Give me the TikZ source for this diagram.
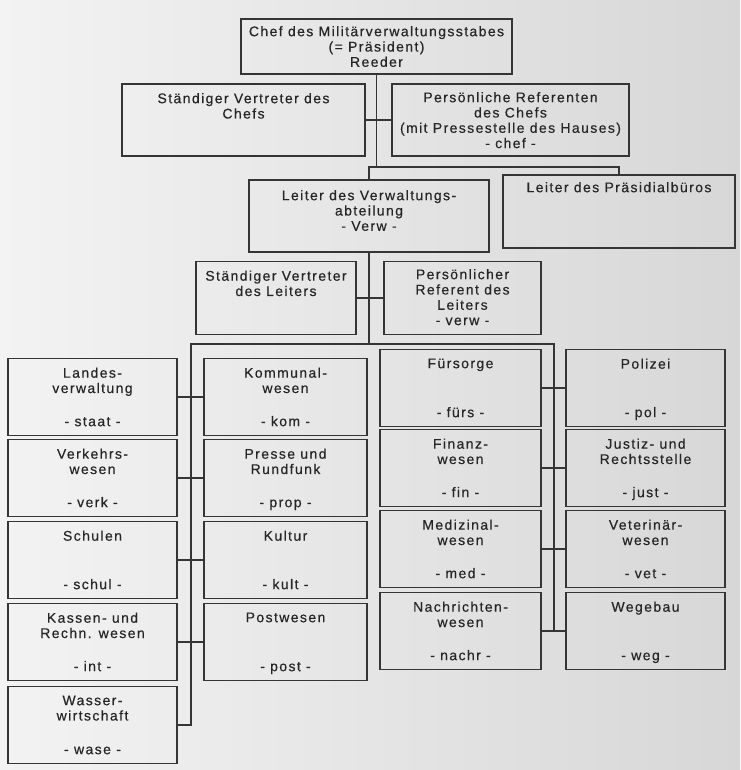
\documentclass[tikz,border=0pt]{standalone}
\usepackage{fontspec}
\setmainfont{Liberation Sans}[LetterSpace=10, FakeBold=0.4]
\definecolor{linegray}{HTML}{353535}
\definecolor{txtgray}{HTML}{262626}
\definecolor{paperl}{HTML}{F3F3F3}
\definecolor{paperr}{HTML}{D7D7D7}
\begin{document}
\begin{tikzpicture}[x=1pt,y=-1pt,
  every node/.style={font=\fontsize{14}{15.3}\selectfont, text=txtgray},
  ink/.style={draw=linegray, line width=1.3pt},
  unit/.style={ink, rectangle, inner sep=0pt},
  ttl/.style={anchor=north, yshift=-9.5pt, inner sep=0pt, align=center},
  code/.style={anchor=base, yshift=10pt, inner sep=0pt},
  col1/.style={unit, minimum width=169pt, minimum height=77pt},
  col2/.style={unit, minimum width=163pt, minimum height=77pt},
  col3/.style={unit, minimum width=161pt, minimum height=77pt},
  col4/.style={unit, minimum width=159pt, minimum height=77pt},
  link/.style={draw=linegray, line width=1.2pt}
]
% paper
\useasboundingbox (0,0) rectangle (740,770);
\fill[left color=paperl, right color=paperr] (0,0) rectangle (740,770);

% head of the staff
\node[unit, minimum width=271pt, minimum height=55pt, align=center] (chef) at (376.5,46.5)
  {Chef des Militärverwaltungsstabes\\(= Präsident)\\Reeder};
\node[unit, minimum width=243pt, minimum height=72pt,
  label={[ttl]north:Ständiger Vertreter des\\Chefs}] (stvchef) at (243.5,120) {};
\node[unit, minimum width=237pt, minimum height=72pt,
  label={[ttl, yshift=1pt]north:Persönliche Referenten\\des Chefs\\(mit Pressestelle des Hauses)\\- chef -}] (refchef) at (510.5,120) {};

% second level
\node[unit, minimum width=240pt, minimum height=72pt,
  label={[ttl, yshift=-1pt]north:Leiter des Verwaltungs-\\abteilung\\- Verw -}] (leiter) at (369,216) {};
\node[unit, minimum width=232pt, minimum height=73pt,
  label={[ttl, yshift=2pt]north:Leiter des Präsidialbüros}] (praes) at (619,211.5) {};
\node[unit, minimum width=160pt, minimum height=73pt,
  label={[ttl]north:Ständiger Vertreter\\des Leiters}] (stvleiter) at (276,298) {};
\node[unit, minimum width=157pt, minimum height=73pt,
  label={[ttl, yshift=1.5pt]north:Persönlicher\\Referent des\\Leiters\\- verw -}] (refleiter) at (462.5,298) {};

% departments, left block
\node[col1, label={[ttl]north:Landes-\\verwaltung}, label={[code]south:- staat -}] (staat) at (92.5,397) {};
\node[col1, label={[ttl]north:Verkehrs-\\wesen}, label={[code]south:- verk -}] (verk) at (92.5,478) {};
\node[col1, label={[ttl]north:Schulen}, label={[code]south:- schul -}] (schul) at (92.5,560) {};
\node[col1, label={[ttl]north:Kassen- und\\Rechn. wesen}, label={[code]south:- int -}] (int) at (92.5,642) {};
\node[col1, label={[ttl]north:Wasser-\\wirtschaft}, label={[code]south:- wase -}] (wase) at (92.5,725) {};

\node[col2, label={[ttl]north:Kommunal-\\wesen}, label={[code]south:- kom -}] (kom) at (285.5,397) {};
\node[col2, label={[ttl]north:Presse und\\Rundfunk}, label={[code]south:- prop -}] (prop) at (285.5,478) {};
\node[col2, label={[ttl]north:Kultur}, label={[code]south:- kult -}] (kult) at (285.5,560) {};
\node[col2, label={[ttl]north:Postwesen}, label={[code]south:- post -}] (post) at (285.5,642) {};

% departments, right block
\node[col3, label={[ttl]north:Fürsorge}, label={[code]south:- fürs -}] (fuers) at (460.5,388) {};
\node[col3, label={[ttl]north:Finanz-\\wesen}, label={[code]south:- fin -}] (fin) at (460.5,468) {};
\node[col3, label={[ttl]north:Medizinal-\\wesen}, label={[code]south:- med -}] (med) at (460.5,549) {};
\node[col3, label={[ttl]north:Nachrichten-\\wesen}, label={[code]south:- nachr -}] (nachr) at (460.5,631) {};

\node[col4, label={[ttl]north:Polizei}, label={[code]south:- pol -}] (pol) at (645.5,388) {};
\node[col4, label={[ttl]north:Justiz- und\\Rechtsstelle}, label={[code]south:- just -}] (just) at (645.5,468) {};
\node[col4, label={[ttl]north:Veterinär-\\wesen}, label={[code]south:- vet -}] (vet) at (645.5,549) {};
\node[col4, label={[ttl]north:Wegebau}, label={[code]south:- weg -}] (weg) at (645.5,631) {};

% junction points of the connector bars
\coordinate (barA) at (369,167);
\coordinate (barBl) at (191,344);
\coordinate (barBr) at (554,344);

% connectors
\draw[link] (chef.south) -- (chef.south |- barA);
\draw[link] (stvchef.east) -- (refchef.west);
\draw[link] (leiter.north) -- (barA) -| (praes.north);
\draw[link] (leiter.south) -- (leiter.south |- barBl);
\draw[link] (stvleiter.east) -- (refleiter.west);
\draw[link] (wase.east) -| (barBl) -- (barBr) |- (weg.west);
\draw[link] (staat.east) -- (kom.west);
\draw[link] (verk.east) -- (prop.west);
\draw[link] (schul.east) -- (kult.west);
\draw[link] (int.east) -- (post.west);
\draw[link] (fuers.east) -- (pol.west);
\draw[link] (fin.east) -- (just.west);
\draw[link] (med.east) -- (vet.west);
\draw[link] (nachr.east) -- (weg.west);
\end{tikzpicture}
\end{document}
